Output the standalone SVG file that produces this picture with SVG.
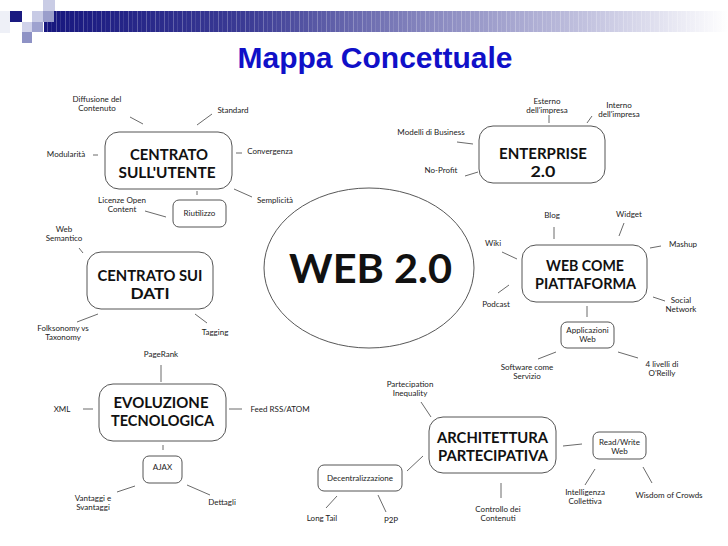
<svg xmlns="http://www.w3.org/2000/svg" width="728" height="546" viewBox="0 0 728 546">
<style>
.box{fill:#fff;stroke:#555;stroke-width:1}
.big{font-family:Lato,"Open Sans",sans-serif;font-weight:700;font-size:16px;fill:#111;text-anchor:middle}
.sm{font-family:Lato,"Open Sans",sans-serif;font-size:8px;fill:#222;text-anchor:middle}
.cn line{stroke:#444;stroke-width:0.8}
</style>
<defs>
<linearGradient id="bar" x1="0" y1="0" x2="1" y2="0">
<stop offset="0" stop-color="#16167e"/>
<stop offset="0.3" stop-color="#3c3c95"/>
<stop offset="0.55" stop-color="#8484bd"/>
<stop offset="0.8" stop-color="#c4c4e0"/>
<stop offset="1" stop-color="#ffffff"/>
</linearGradient>
<pattern id="stripes" width="9" height="21" patternUnits="userSpaceOnUse">
<rect x="2" y="0" width="1" height="21" fill="#fff" opacity="0.25"/>
<rect x="6" y="0" width="0.6" height="21" fill="#fff" opacity="0.18"/>
</pattern>
</defs>
<rect width="728" height="546" fill="#fff"/>
<g id="header">
<rect x="0" y="11" width="10" height="22" fill="#eef0f7"/>
<rect x="44" y="11" width="684" height="21" fill="url(#bar)"/>
<rect x="44" y="11" width="684" height="21" fill="url(#stripes)"/>
<rect x="10" y="11" width="12" height="11" fill="#1a1a80"/>
<rect x="43" y="0" width="12" height="11" fill="#c9cce5"/>
<rect x="32" y="11" width="11" height="11" fill="#c8cbe5"/>
<rect x="43" y="11" width="11" height="11" fill="#9a9ecb"/>
<rect x="22" y="22" width="10" height="10" fill="#d0d2ea"/>
<rect x="32" y="22" width="11" height="10" fill="#9ea2cf"/>
<rect x="22" y="32" width="10" height="11" fill="#8e92c5"/>
</g>
<text id="title" x="375" y="68" font-family="'Liberation Sans',Arial,sans-serif" font-weight="700" font-size="29" fill="#1010c8" text-anchor="middle" textLength="275" lengthAdjust="spacingAndGlyphs">Mappa Concettuale</text>

<g class="cn" id="connectors">
<line x1="130" y1="117" x2="143" y2="124"/>
<line x1="212" y1="114" x2="197" y2="125"/>
<line x1="93" y1="155" x2="98" y2="155"/>
<line x1="236" y1="153" x2="242" y2="153"/>
<line x1="234" y1="189" x2="252" y2="197"/>
<line x1="145" y1="211" x2="166" y2="217"/>
<line x1="197" y1="191" x2="197" y2="195"/>
<line x1="549" y1="115" x2="549" y2="123"/>
<line x1="592" y1="116" x2="587" y2="123"/>
<line x1="457" y1="142" x2="473" y2="144"/>
<line x1="465" y1="176" x2="478" y2="172"/>
<line x1="79" y1="248" x2="83" y2="253"/>
<line x1="77" y1="322" x2="98" y2="314"/>
<line x1="195" y1="314" x2="207" y2="323"/>
<line x1="554" y1="227" x2="554" y2="239"/>
<line x1="624" y1="223" x2="619" y2="236"/>
<line x1="661" y1="246" x2="650" y2="248"/>
<line x1="502" y1="252" x2="517" y2="259"/>
<line x1="498" y1="293" x2="509" y2="285"/>
<line x1="653" y1="297" x2="665" y2="301"/>
<line x1="587" y1="306" x2="587" y2="317"/>
<line x1="538" y1="359" x2="556" y2="352"/>
<line x1="618" y1="352" x2="638" y2="358"/>
<line x1="161" y1="365" x2="161" y2="382"/>
<line x1="83" y1="409" x2="93" y2="409"/>
<line x1="229" y1="409" x2="242" y2="409"/>
<line x1="163" y1="445" x2="163" y2="450"/>
<line x1="117" y1="492" x2="135" y2="486"/>
<line x1="187" y1="485" x2="210" y2="495"/>
<line x1="421" y1="402" x2="431" y2="417"/>
<line x1="563" y1="446" x2="582" y2="444"/>
<line x1="407" y1="471" x2="423" y2="456"/>
<line x1="326" y1="508" x2="337" y2="496"/>
<line x1="378" y1="495" x2="386" y2="512"/>
<line x1="501" y1="483" x2="501" y2="498"/>
<line x1="585" y1="485" x2="595" y2="469"/>
<line x1="643" y1="467" x2="652" y2="483"/>
</g>

<g id="web20">
<ellipse cx="369" cy="268" rx="105" ry="80" fill="#fff" stroke="#444" stroke-width="0.9"/>
<text x="370.5" y="283" font-family="Lato,'Open Sans',sans-serif" font-weight="700" font-size="40" fill="#111" text-anchor="middle" textLength="163" lengthAdjust="spacingAndGlyphs">WEB 2.0</text>
</g>

<g id="centrato-utente">
<rect class="box" x="105" y="132" width="127" height="57" rx="14"/>
<text class="big"><tspan x="169" y="159.5" textLength="78" lengthAdjust="spacingAndGlyphs">CENTRATO</tspan><tspan x="167" y="177.5" textLength="97" lengthAdjust="spacingAndGlyphs">SULL'UTENTE</tspan></text>
</g>
<g id="riutilizzo">
<rect class="box" x="173" y="200" width="53" height="27" rx="6"/>
<text class="sm" x="199.5" y="216">Riutilizzo</text>
</g>
<g id="labels-utente">
<text class="sm"><tspan x="97" y="101.5">Diffusione del</tspan><tspan x="97" y="110.5">Contenuto</tspan></text>
<text class="sm" x="233" y="113">Standard</text>
<text class="sm" x="66" y="157">Modularità</text>
<text class="sm" x="270" y="154">Convergenza</text>
<text class="sm" x="275" y="203">Semplicità</text>
<text class="sm"><tspan x="122" y="202.5">Licenze Open</tspan><tspan x="122" y="211.5">Content</tspan></text>
</g>

<g id="enterprise">
<rect class="box" x="479" y="126" width="126" height="57" rx="14"/>
<text class="big"><tspan x="543" y="158.5" textLength="88" lengthAdjust="spacingAndGlyphs">ENTERPRISE</tspan><tspan x="543" y="176.5" textLength="25" lengthAdjust="spacingAndGlyphs">2.0</tspan></text>
</g>
<g id="labels-enterprise">
<text class="sm"><tspan x="547" y="103.5">Esterno</tspan><tspan x="547" y="112.5">dell'impresa</tspan></text>
<text class="sm"><tspan x="619" y="107.5">Interno</tspan><tspan x="619" y="116.5">dell'impresa</tspan></text>
<text class="sm" x="431" y="135">Modelli di Business</text>
<text class="sm" x="441" y="173">No-Profit</text>
</g>

<g id="centrato-dati">
<rect class="box" x="87" y="252" width="126" height="57" rx="14"/>
<text class="big"><tspan x="150" y="280.5" textLength="105" lengthAdjust="spacingAndGlyphs">CENTRATO SUI</tspan><tspan x="150" y="298.5" textLength="39" lengthAdjust="spacingAndGlyphs">DATI</tspan></text>
</g>
<g id="labels-dati">
<text class="sm"><tspan x="64" y="231.5">Web</tspan><tspan x="64" y="240.5">Semantico</tspan></text>
<text class="sm"><tspan x="63" y="330.5">Folksonomy vs</tspan><tspan x="63" y="339.5">Taxonomy</tspan></text>
<text class="sm" x="215" y="335">Tagging</text>
</g>

<g id="web-piattaforma">
<rect class="box" x="522" y="245" width="125" height="57" rx="14"/>
<text class="big"><tspan x="585" y="270.5" textLength="78" lengthAdjust="spacingAndGlyphs">WEB COME</tspan><tspan x="585.5" y="288.5" textLength="101" lengthAdjust="spacingAndGlyphs">PIATTAFORMA</tspan></text>
</g>
<g id="applicazioni-web">
<rect class="box" x="561" y="322" width="53" height="26" rx="6"/>
<text class="sm"><tspan x="587.5" y="333">Applicazioni</tspan><tspan x="587.5" y="342">Web</tspan></text>
</g>
<g id="labels-piattaforma">
<text class="sm" x="552" y="218">Blog</text>
<text class="sm" x="629" y="217">Widget</text>
<text class="sm" x="683" y="247">Mashup</text>
<text class="sm" x="493" y="246">Wiki</text>
<text class="sm" x="496" y="307">Podcast</text>
<text class="sm"><tspan x="681" y="302.5">Social</tspan><tspan x="681" y="311.5">Network</tspan></text>
<text class="sm"><tspan x="527" y="369.5">Software come</tspan><tspan x="527" y="378.5">Servizio</tspan></text>
<text class="sm"><tspan x="662" y="366.5">4 livelli di</tspan><tspan x="662" y="375.5">O'Reilly</tspan></text>
</g>

<g id="evoluzione">
<rect class="box" x="99" y="384" width="127" height="57" rx="14"/>
<text class="big"><tspan x="161" y="407.5" textLength="95" lengthAdjust="spacingAndGlyphs">EVOLUZIONE</tspan><tspan x="162.5" y="425.5" textLength="103" lengthAdjust="spacingAndGlyphs">TECNOLOGICA</tspan></text>
</g>
<g id="ajax">
<rect class="box" x="143" y="456" width="39" height="27" rx="6"/>
<text class="sm" x="162.5" y="470" font-size="7">AJAX</text>
</g>
<g id="labels-evoluzione">
<text class="sm" x="161" y="357">PageRank</text>
<text class="sm" x="62" y="412">XML</text>
<text class="sm" x="280" y="412">Feed RSS/ATOM</text>
<text class="sm"><tspan x="93" y="500.5">Vantaggi e</tspan><tspan x="93" y="509.5">Svantaggi</tspan></text>
<text class="sm" x="222" y="505">Dettagli</text>
</g>

<g id="architettura">
<rect class="box" x="429" y="417" width="127" height="56" rx="14"/>
<text class="big"><tspan x="492.5" y="442.5" textLength="111" lengthAdjust="spacingAndGlyphs">ARCHITETTURA</tspan><tspan x="493" y="460.5" textLength="110" lengthAdjust="spacingAndGlyphs">PARTECIPATIVA</tspan></text>
</g>
<g id="read-write-web">
<rect class="box" x="593" y="432" width="53" height="27" rx="6"/>
<text class="sm"><tspan x="619.5" y="444.5">Read/Write</tspan><tspan x="619.5" y="453.5">Web</tspan></text>
</g>
<g id="decentralizzazione">
<rect class="box" x="318" y="465" width="84" height="26" rx="6"/>
<text class="sm" x="360" y="481">Decentralizzazione</text>
</g>
<g id="labels-architettura">
<text class="sm"><tspan x="410" y="387">Partecipation</tspan><tspan x="410" y="396">Inequality</tspan></text>
<text class="sm" x="322" y="521">Long Tail</text>
<text class="sm" x="391" y="523">P2P</text>
<text class="sm"><tspan x="498" y="511.5">Controllo dei</tspan><tspan x="498" y="520.5">Contenuti</tspan></text>
<text class="sm"><tspan x="585" y="494.5">Intelligenza</tspan><tspan x="585" y="503.5">Collettiva</tspan></text>
<text class="sm" x="669" y="498">Wisdom of Crowds</text>
</g>
</svg>
